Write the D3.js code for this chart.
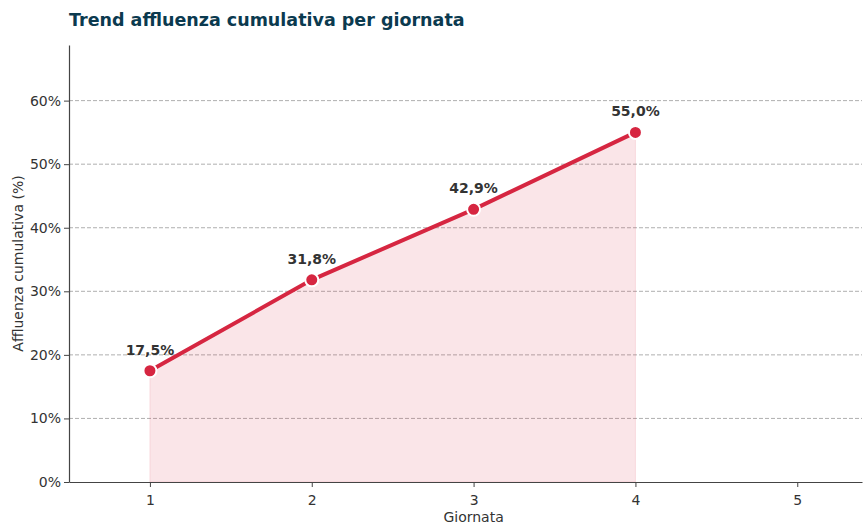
<!DOCTYPE html>
<html>
<head>
<meta charset="utf-8">
<script src="https://cdn.jsdelivr.net/npm/d3@7"></script>
<style>
  body { margin: 0; background: #fff; }
  text { font-family: "DejaVu Sans", sans-serif; }
</style>
</head>
<body>
<script>
// Chart data
const giornate = [1, 2, 3, 4];
const affluenza = [17.5, 31.8, 42.9, 55.0];
const xTicks = [1, 2, 3, 4, 5];
const yTicks = [0, 10, 20, 30, 40, 50, 60];

const width = 864;
const height = 526;
const margin = { top: 45, right: 2, bottom: 44, left: 69 };

const lineColor = '#d62641';

const svg = d3.select('body')
  .append('svg')
  .attr('width', width)
  .attr('height', height);

const x = d3.scaleLinear()
  .domain([0.5, 5.4])
  .range([margin.left, width - margin.right]);

const y = d3.scaleLinear()
  .domain([0, 68.75])
  .range([height - margin.bottom, margin.top]);

// Grid lines
svg.append('g')
  .selectAll('line')
  .data(yTicks.slice(1))
  .enter()
  .append('line')
  .attr('x1', margin.left)
  .attr('x2', width - margin.right)
  .attr('y1', d => y(d))
  .attr('y2', d => y(d))
  .attr('stroke', '#b0b0b0')
  .attr('stroke-width', 1)
  .attr('stroke-dasharray', '4,2');

const pts = giornate.map((g, i) => ({ g, v: affluenza[i] }));

// Area fill
svg.append('path')
  .datum(pts)
  .attr('d', d3.area().x(d => x(d.g)).y0(y(0)).y1(d => y(d.v)))
  .attr('fill', lineColor)
  .attr('fill-opacity', 0.12)
  .attr('stroke', lineColor)
  .attr('stroke-opacity', 0.12);

// Line
svg.append('path')
  .datum(pts)
  .attr('d', d3.line().x(d => x(d.g)).y(d => y(d.v)))
  .attr('fill', 'none')
  .attr('stroke', lineColor)
  .attr('stroke-width', 4);

// Points
svg.selectAll('circle.pt')
  .data(pts)
  .enter()
  .append('circle')
  .attr('class', 'pt')
  .attr('cx', d => x(d.g))
  .attr('cy', d => y(d.v))
  .attr('r', 6.5)
  .attr('fill', lineColor)
  .attr('stroke', '#fff')
  .attr('stroke-width', 2);

// Value labels
svg.selectAll('text.val')
  .data(pts)
  .enter()
  .append('text')
  .attr('class', 'val')
  .attr('x', d => x(d.g))
  .attr('y', d => y(d.v) - 16)
  .attr('text-anchor', 'middle')
  .attr('font-size', '14px')
  .attr('font-weight', 'bold')
  .attr('fill', '#333')
  .text(d => d.v.toFixed(1).replace('.', ',') + '%');

// Axes
const xAxis = svg.append('g')
  .attr('transform', `translate(0, ${height - margin.bottom})`)
  .call(d3.axisBottom(x).tickValues(xTicks).tickFormat(d3.format('d')).tickSize(5).tickSizeOuter(0));

const yAxis = svg.append('g')
  .attr('transform', `translate(${margin.left}, 0)`)
  .call(d3.axisLeft(y).tickValues(yTicks).tickFormat(d => d + '%').tickSize(5).tickSizeOuter(0));

[xAxis, yAxis].forEach(a => {
  a.select('.domain').attr('stroke', '#444').attr('stroke-width', 1.2);
  a.selectAll('.tick line').attr('stroke', '#444');
  a.selectAll('.tick text')
    .attr('font-family', '"DejaVu Sans", sans-serif')
    .attr('font-size', '14px')
    .attr('fill', '#333');
});
xAxis.selectAll('.tick text').attr('dy', '1.1em');
yAxis.selectAll('.tick text').attr('x', -8);

// Axis titles
svg.append('text')
  .attr('x', x(3))
  .attr('y', 522)
  .attr('text-anchor', 'middle')
  .attr('font-size', '14px')
  .attr('fill', '#333')
  .text('Giornata');

svg.append('text')
  .attr('transform', `translate(23, ${(margin.top + height - margin.bottom) / 2}) rotate(-90)`)
  .attr('text-anchor', 'middle')
  .attr('font-size', '14px')
  .attr('fill', '#333')
  .text('Affluenza cumulativa (%)');

// Title
svg.append('text')
  .attr('x', margin.left)
  .attr('y', 26)
  .attr('font-size', '17.5px')
  .attr('font-weight', 'bold')
  .attr('fill', '#0b3a4f')
  .text('Trend affluenza cumulativa per giornata');
</script>
</body>
</html>
